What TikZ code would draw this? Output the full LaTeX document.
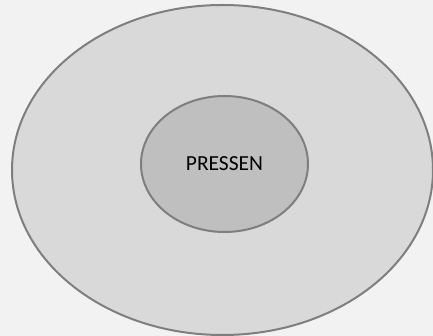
\documentclass[tikz,border=0pt]{standalone}
\usepackage{fontspec}
\setmainfont{Carlito}
\usetikzlibrary{shapes.geometric}
\definecolor{bgc}{HTML}{F2F2F2}
\definecolor{outerc}{HTML}{D9D9D9}
\definecolor{innerc}{HTML}{BFBFBF}
\definecolor{linec}{HTML}{7F7F7F}
\tikzset{
  ring/.style={ellipse, draw=linec, line width=2pt, inner sep=0pt, outer sep=0pt},
}
\begin{document}
\begin{tikzpicture}[x=1pt,y=-1pt]
\fill[bgc] (0,0) rectangle (433,336);
\useasboundingbox (0,0) rectangle (433,336);
\node[ring, fill=outerc, minimum width=421pt, minimum height=330pt] (outer) at (222.5,170) {};
\node[ring, fill=innerc, minimum width=167pt, minimum height=136pt] (inner) at (224.5,164) {};
\node[font=\fontsize{21.5}{25}\selectfont, inner sep=0pt] (label) at (224.5,164) {PRESSEN};
\end{tikzpicture}
\end{document}
